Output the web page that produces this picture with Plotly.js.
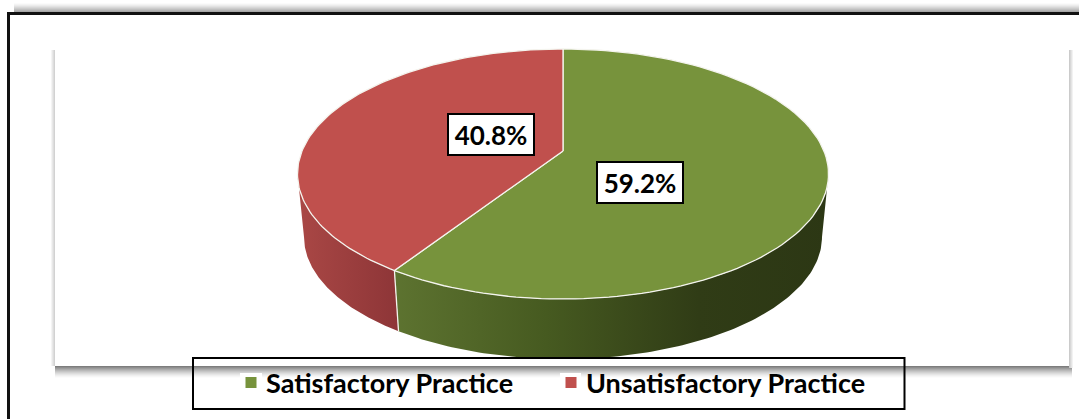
<!DOCTYPE html>
<html>
<head>
<meta charset="utf-8">
<script src="https://cdn.plot.ly/plotly-3.0.1.min.js"></script>
<style>html,body{margin:0;padding:0;background:#fff;overflow:hidden}#chart{width:1079px;height:419px}</style>
</head>
<body>
<div id="chart"></div>
<script>
const categories = ['Satisfactory Practice', 'Unsatisfactory Practice'];
const values = [59.2, 40.8];
const sliceColors = ['#77933c', '#c0504d'];
const wallGreen = [[0, '#5d7330'], [0.35, '#465a20'], [0.7, '#303c16'], [1, '#2c3714']];
const wallRed = [[0, '#a94745'], [1, '#8d3537']];

// perspective ellipse geometry (axes are in picture pixels)
const cx = 563, topCy = 174, topRx = 265.5, topRy = 125;
const botCy = 237, botRx = 259, botRy = 122, persp = 0.83;

const toParam = t => 2 * Math.atan2(persp * Math.sin(t / 2), Math.cos(t / 2));
const rim = (a, cy, rx, ry) => [cx + rx * Math.sin(a), cy - ry * Math.cos(a)];
const total = values.reduce((s, v) => s + v, 0);
const boundary = values[0] / total * 2 * Math.PI;
const apexY = topCy - topRy * Math.cos(toParam(Math.PI / 2));

function arc(from, to, cy, rx, ry) {
  const n = 120, pts = [];
  for (let i = 0; i <= n; i++) pts.push(rim(from + (to - from) * i / n, cy, rx, ry));
  return pts;
}
function poly(pts, color, extra) {
  return Object.assign({
    type: 'scatter', mode: 'lines', x: pts.map(p => p[0]), y: pts.map(p => p[1]),
    fill: 'toself', fillcolor: color, line: {color: '#f4f4ee', width: 1.3, shape: 'linear'},
    hoverinfo: 'skip', showlegend: false
  }, extra || {});
}
const aB = toParam(boundary);
const wall = (a0, a1) => arc(a0, a1, topCy, topRx, topRy).concat(arc(a1, a0, botCy, botRx, botRy));
const closeP = p => p.concat([p[0]]);
const seam = [rim(aB, topCy, topRx, topRy), rim(aB, botCy, botRx, botRy)];

const traces = [
  poly(closeP(wall(Math.PI / 2, aB)), '#465a20', {line: {width: 0}, fillgradient: {type: 'horizontal', colorscale: wallGreen, start: 395, stop: 829}}),
  poly(closeP(wall(aB, 1.5 * Math.PI)), '#a04040', {line: {width: 0}, fillgradient: {type: 'horizontal', colorscale: wallRed, start: 300, stop: 400}}),
  {type: 'scatter', mode: 'lines', x: seam.map(p => p[0]), y: seam.map(p => p[1]), line: {color: '#f4f4ee', width: 1.3}, hoverinfo: 'skip', showlegend: false},
  poly(closeP([[cx, apexY]].concat(arc(0, aB, topCy, topRx, topRy))), sliceColors[0]),
  poly(closeP([[cx, apexY]].concat(arc(aB, 2 * Math.PI, topCy, topRx, topRy))), sliceColors[1])
];
categories.forEach((name, i) => traces.push({
  type: 'scatter', mode: 'markers', x: [null], y: [null], name: name,
  marker: {symbol: 'square', size: 11, color: sliceColors[i]}, hoverinfo: 'skip'
}));

const shapes = [];
function rect(x0, y0, x1, y1, fill) {
  shapes.push({type: 'rect', xref: 'x', yref: 'y', x0, y0, x1, y1, fillcolor: fill, line: {width: 0}, layer: 'below'});
}
function gray(f) { const v = Math.round(255 - f * 130); return `rgb(${v},${v},${v})`; }
// page-top shadow
for (let i = 0; i < 9; i++) rect(14, 3.5 + i, 1079, 4.5 + i, gray(Math.pow((i + 1) / 9, 1.3) * 0.95));
// panel shadows
for (let i = 0; i < 12; i++) rect(55, 366 + i, 1072, 367 + i, gray(Math.pow(1 - i / 12, 1.5)));
for (let i = 0; i < 4; i++) rect(51 + i, 50, 52 + i, 366, gray((i + 1) / 4 * 0.35));
for (let i = 0; i < 4; i++) rect(1069 + i, 50, 1070 + i, 368, gray((1 - i / 4) * 0.4));
// legend marker halos
rect(240, 373, 262, 392, '#ffffff');
rect(560, 373, 581, 392, '#ffffff');
// outer frame
rect(7, 12, 1079, 15, '#111111');
rect(7, 12, 10, 419, '#111111');
// legend frame
shapes.push({type: 'rect', xref: 'x', yref: 'y', x0: 193, y0: 358, x1: 904.5, y1: 409, fillcolor: 'rgba(0,0,0,0)', line: {color: '#000', width: 2}, layer: 'above'});

const labelFont = {family: 'Lato, sans-serif', size: 26, color: '#000'};
function label(i, x, y) {
  return {xref: 'x', yref: 'y', x, y, text: '<b>' + values[i].toFixed(1) + '%</b>', showarrow: false,
    font: labelFont, bgcolor: '#fff', bordercolor: '#000', borderwidth: 2, width: 84, height: 39, borderpad: 0, align: 'center', valign: 'middle'};
}

const layout = {
  width: 1079, height: 419, margin: {l: 0, r: 0, t: 0, b: 0},
  paper_bgcolor: '#fff', plot_bgcolor: 'rgba(0,0,0,0)',
  xaxis: {range: [0, 1079], visible: false, fixedrange: true},
  yaxis: {range: [419, 0], visible: false, fixedrange: true},
  shapes,
  annotations: [label(0, 640, 182.5), label(1, 491, 134.5)],
  showlegend: true,
  legend: {
    orientation: 'h', xref: 'paper', yref: 'paper', x: 226 / 1079, y: 1 - 383 / 419,
    xanchor: 'left', yanchor: 'middle', entrywidth: 275, entrywidthmode: 'pixels',
    bgcolor: 'rgba(0,0,0,0)', borderwidth: 0,
    font: {family: 'Lato, sans-serif', size: 27, color: '#000', weight: 700},
    itemclick: false, itemdoubleclick: false
  }
};
Plotly.newPlot('chart', traces, layout, {displayModeBar: false, staticPlot: true}).then(gd => {
  // the reference sets its legend keys closer to their text than the library's default gap
  gd.querySelectorAll('.legend .legendsymbols').forEach(g => g.setAttribute('transform', 'translate(5,0)'));
});
</script>
</body>
</html>
